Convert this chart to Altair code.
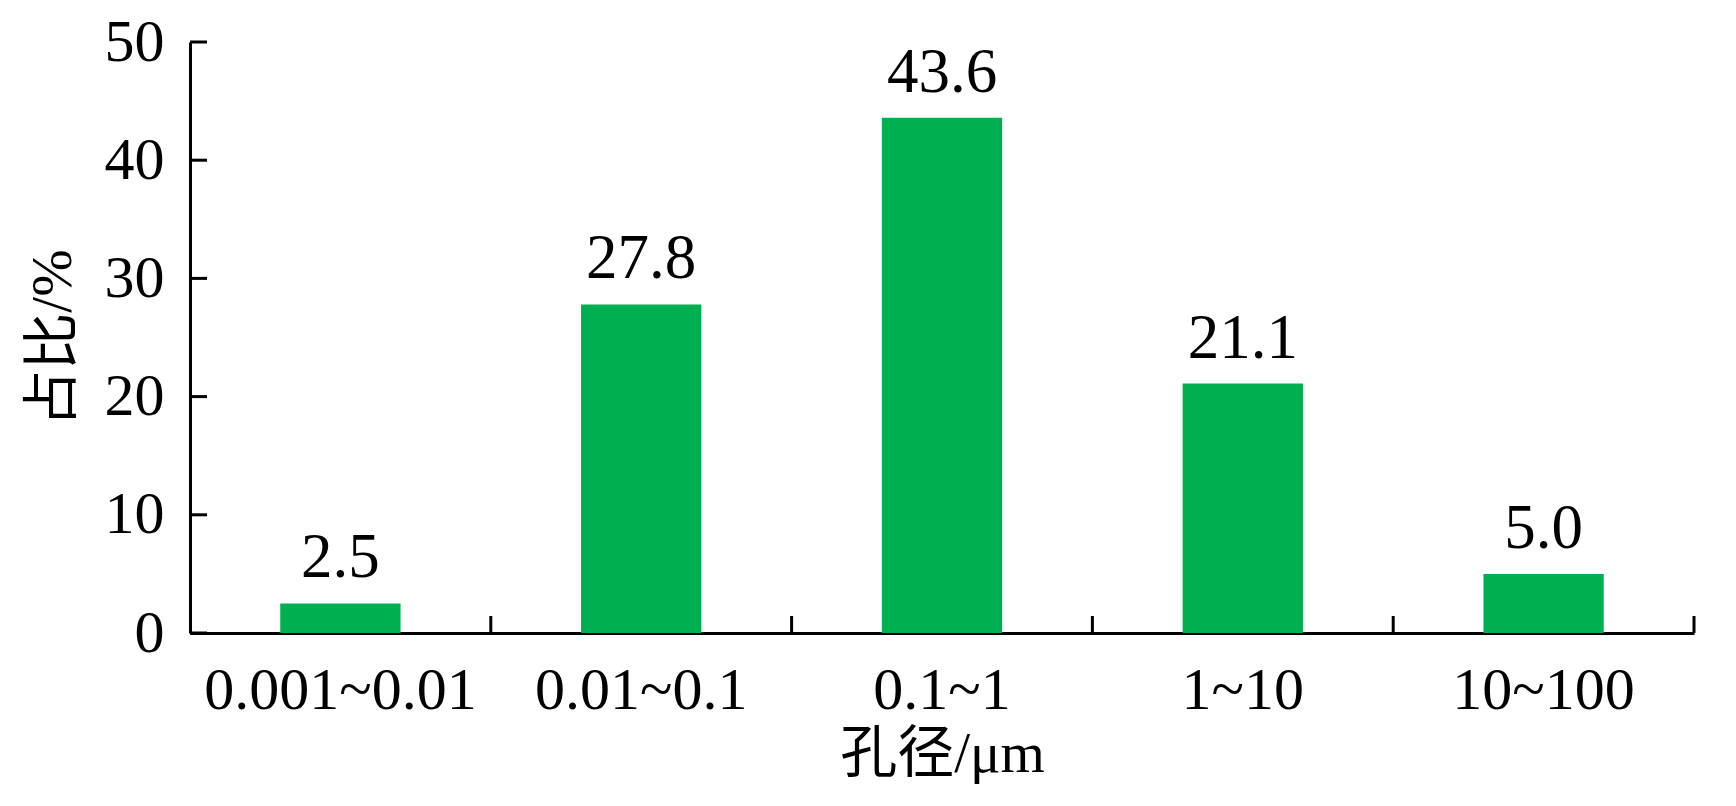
import altair as alt
import pandas as pd

categories = ["0.001~0.01", "0.01~0.1", "0.1~1", "1~10", "10~100"]
values = [2.5, 27.8, 43.6, 21.1, 5.0]
value_labels = ["2.5", "27.8", "43.6", "21.1", "5.0"]
y_ticks = [0, 10, 20, 30, 40, 50]

df = pd.DataFrame({"cat": categories, "val": values, "lab": value_labels})
df_ticks = pd.DataFrame({"t": y_ticks})

SERIF = "'Liberation Serif', 'Noto Sans CJK SC'"
W, H = 1504, 591

xenc = alt.X("cat:N", sort=categories,
             scale=alt.Scale(paddingInner=0, paddingOuter=0),
             axis=alt.Axis(title="孔径/μm", labelAngle=0, ticks=False, labelLimit=0, grid=False,
                           domainColor="black", domainWidth=3,
                           labelFont=SERIF, labelFontSize=60, labelColor="black",
                           labelPadding=28, titleFont=SERIF, titleFontSize=57,
                           titleFontWeight="normal", titleColor="black", titlePadding=6))
yscale = alt.Scale(domain=[0, 50], nice=False)

bars = alt.Chart(df).mark_bar(color="#00B050", width={"band": 0.4}).encode(
    x=xenc,
    y=alt.Y("val:Q", scale=yscale,
            axis=alt.Axis(title="占比/%", values=y_ticks, ticks=False, grid=False,
                          domainColor="black", domainWidth=3,
                          labelFont=SERIF, labelFontSize=60, labelColor="black",
                          labelPadding=26, titleFont=SERIF, titleFontSize=57,
                          titleFontWeight="normal", titleColor="black", titlePadding=22)),
)

texts = alt.Chart(df).mark_text(font=SERIF, fontSize=63, color="black",
                                baseline="alphabetic", dy=-26).encode(
    x=alt.X("cat:N", sort=categories),
    y=alt.Y("val:Q", scale=yscale),
    text="lab:N",
)

yticks = alt.Chart(df_ticks).mark_rule(color="black", strokeWidth=3).encode(
    x=alt.value(0), x2=alt.value(17),
    y=alt.Y("t:Q", scale=yscale),
)

xticks = alt.Chart(df).mark_rule(color="black", strokeWidth=3).encode(
    x=alt.X("cat:N", sort=categories, bandPosition=1),
    y=alt.value(H), y2=alt.value(H - 17),
)

chart = alt.layer(bars, texts, yticks, xticks).properties(
    width=W, height=H,
    background="white",
    autosize=alt.AutoSizeParams(type="none"),
    padding={"left": 182, "top": 34, "right": 34, "bottom": 160},
).configure_view(strokeWidth=0, stroke="transparent")

chart.save("out.html", embed_options={"renderer": "svg", "actions": False})
